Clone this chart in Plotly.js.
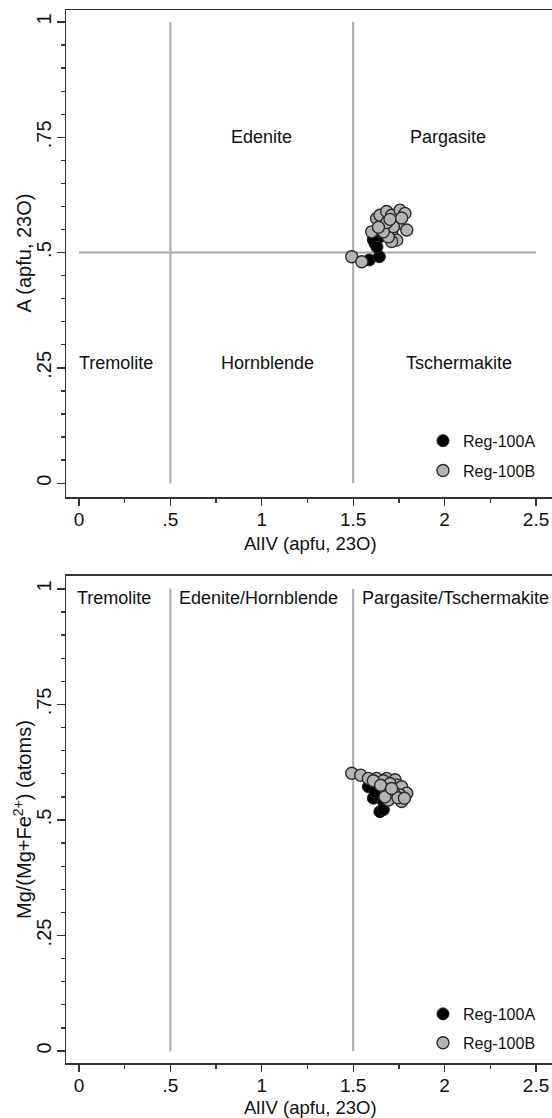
<!DOCTYPE html>
<html>
<head>
<meta charset="utf-8">
<script src="https://cdn.plot.ly/plotly-3.0.1.min.js"></script>
<style>
html,body{margin:0;padding:0;overflow:hidden;background:#fff;width:552px;height:1118px;}
#chart{width:620px;height:1118px;}
</style>
</head>
<body>
<div id="chart"></div>
<script>
// ---- data ----
const seriesNames = ["Reg-100A", "Reg-100B"];

// Reg-100A (black)
const aAlIV_top = [1.588, 1.643, 1.619, 1.646, 1.656, 1.665, 1.637, 1.665, 1.610, 1.630];
const aA_top    = [0.484, 0.491, 0.520, 0.534, 0.556, 0.567, 0.545, 0.553, 0.528, 0.512];
const aAlIV_bot = [1.592, 1.583, 1.637, 1.656, 1.610, 1.646, 1.665, 1.646, 1.665, 1.619];
const aMg_bot   = [0.583, 0.572, 0.569, 0.561, 0.547, 0.550, 0.540, 0.518, 0.522, 0.561];

// Reg-100B (grey)
const bAlIV_top = [1.492, 1.547, 1.601, 1.628, 1.646, 1.683, 1.710, 1.756, 1.783, 1.747, 1.793,
                   1.710, 1.738, 1.710, 1.692, 1.720, 1.665, 1.683, 1.638, 1.701, 1.765];
const bA_top    = [0.491, 0.480, 0.545, 0.574, 0.581, 0.589, 0.581, 0.592, 0.585, 0.563, 0.549,
                   0.542, 0.527, 0.524, 0.534, 0.556, 0.545, 0.565, 0.555, 0.572, 0.575];
const bAlIV_bot = [1.492, 1.541, 1.583, 1.628, 1.683, 1.729, 1.738, 1.765, 1.793, 1.756, 1.765,
                   1.692, 1.720, 1.665, 1.701, 1.674, 1.610, 1.650, 1.745, 1.710, 1.780];
const bMg_bot   = [0.601, 0.597, 0.590, 0.590, 0.590, 0.587, 0.576, 0.572, 0.558, 0.554, 0.540,
                   0.543, 0.561, 0.585, 0.579, 0.550, 0.585, 0.575, 0.548, 0.568, 0.547];

// field boundaries
const alivBounds = [0.5, 1.5];
const aBound = 0.5;

// tick labels
const xTickVals = [0, 0.5, 1, 1.5, 2, 2.5];
const xTickText = ["0", ".5", "1", "1.5", "2", "2.5"];
const yTickVals = [0, 0.25, 0.5, 0.75, 1];
const yTickText = ["0", ".25", ".5", ".75", "1"];

// axis titles
const xTitle = "AlIV (apfu, 23O)";
const yTitleTop = "A (apfu, 23O)";
const yTitleBot = "Mg/(Mg+Fe<sup>2+</sup>) (atoms)";

// field labels
const topLabels = [
  {text: "Edenite", x: 1.0, y: 0.75},
  {text: "Pargasite", x: 2.02, y: 0.75},
  {text: "Tremolite", x: 0.2, y: 0.26},
  {text: "Hornblende", x: 1.03, y: 0.26},
  {text: "Tschermakite", x: 2.08, y: 0.26}
];
const botLabels = [
  {text: "Tremolite", x: 0.19, y: 0.98},
  {text: "Edenite/Hornblende", x: 0.98, y: 0.98},
  {text: "Pargasite/Tschermakite", x: 2.06, y: 0.98}
];

// ---- styling ----
const FONT = "Liberation Sans, Arial, Helvetica, sans-serif";
const AX = "#333333";
const LINE = "#a8a8a8";
const TXT = "#111111";

function xAxis(anchor) {
  return {
    anchor: anchor, range: [-0.071, 2.664], domain: [0, 1],
    tickmode: "array", tickvals: xTickVals, ticktext: xTickText,
    ticks: "outside", ticklen: 7, tickwidth: 1.3, tickcolor: AX,
    showline: true, linecolor: AX, linewidth: 1.5, mirror: true,
    showgrid: false, zeroline: false, automargin: false,
    ticklabelstandoff: -2,
    tickfont: {family: FONT, size: 19, color: TXT},
    minor: {tickmode: "array", tickvals: [0.25, 0.75, 1.25, 1.75, 2.25], ticks: "outside",
            ticklen: 4, tickwidth: 1.3, tickcolor: AX, showgrid: false}
  };
}
function yAxis(anchor, domain, range) {
  const minorVals = [];
  for (let i = 1; i < 20; i++) { if (i % 5 !== 0) minorVals.push(i / 20); }
  return {
    anchor: anchor, domain: domain, range: range,
    tickmode: "array", tickvals: yTickVals, ticktext: yTickText, tickangle: -90,
    ticks: "outside", ticklen: 8, tickwidth: 1.3, tickcolor: AX,
    showline: true, linecolor: AX, linewidth: 1.5, mirror: true,
    showgrid: false, zeroline: false, automargin: false,
    ticklabelstandoff: -2,
    tickfont: {family: FONT, size: 20, color: TXT},
    minor: {tickmode: "array", tickvals: minorVals, ticks: "outside",
            ticklen: 4, tickwidth: 1.3, tickcolor: AX, showgrid: false}
  };
}

const markerA = {size: 12, color: "#000000", line: {color: "#222", width: 1}};
const markerB = {size: 12, color: "#b4b4b4", line: {color: "#2a2a2a", width: 1.4}};

const traces = [
  {x: aAlIV_top, y: aA_top, type: "scatter", mode: "markers", name: seriesNames[0],
   marker: markerA, xaxis: "x", yaxis: "y", legend: "legend", legendgroup: "a"},
  {x: bAlIV_top, y: bA_top, type: "scatter", mode: "markers", name: seriesNames[1],
   marker: markerB, xaxis: "x", yaxis: "y", legend: "legend", legendgroup: "b"},
  {x: aAlIV_bot, y: aMg_bot, type: "scatter", mode: "markers", name: seriesNames[0],
   marker: markerA, xaxis: "x2", yaxis: "y2", legend: "legend2", legendgroup: "a2"},
  {x: bAlIV_bot, y: bMg_bot, type: "scatter", mode: "markers", name: seriesNames[1],
   marker: markerB, xaxis: "x2", yaxis: "y2", legend: "legend2", legendgroup: "b2"}
];

const shapes = [];
alivBounds.forEach(v => {
  shapes.push({type: "line", xref: "x", yref: "y", x0: v, x1: v, y0: 0, y1: 1,
               line: {color: LINE, width: 2}, layer: "below"});
  shapes.push({type: "line", xref: "x2", yref: "y2", x0: v, x1: v, y0: 0, y1: 1,
               line: {color: LINE, width: 2}, layer: "below"});
});
shapes.push({type: "line", xref: "x", yref: "y", x0: 0, x1: 2.5, y0: aBound, y1: aBound,
             line: {color: LINE, width: 2}, layer: "below"});

const annotations = [];
topLabels.forEach(l => annotations.push({text: l.text, x: l.x, y: l.y, xref: "x", yref: "y",
  showarrow: false, font: {family: FONT, size: 18, color: TXT}}));
botLabels.forEach(l => annotations.push({text: l.text, x: l.x, y: l.y, xref: "x2", yref: "y2",
  showarrow: false, font: {family: FONT, size: 18, color: TXT}}));

// axis titles as text annotations for exact placement
const titleFont = {family: FONT, size: 18.5, color: TXT};
annotations.push({text: xTitle, xref: "x", x: 1.266, yref: "paper", y: 0.4929,
  xanchor: "center", yanchor: "middle", showarrow: false, font: titleFont});
annotations.push({text: xTitle, xref: "x2", x: 1.266, yref: "paper", y: -0.0418,
  xanchor: "center", yanchor: "middle", showarrow: false, font: titleFont});
annotations.push({text: yTitleTop, xref: "paper", x: -0.058, yref: "paper", y: 0.76876,
  xanchor: "right", yanchor: "middle", textangle: -90, showarrow: false,
  font: {family: FONT, size: 20, color: TXT}});
annotations.push({text: yTitleBot, xref: "paper", x: -0.058, yref: "paper", y: 0.23125,
  xanchor: "right", yanchor: "middle", textangle: -90, showarrow: false,
  font: {family: FONT, size: 20, color: TXT}});

const legendStyle = (y, gap) => ({
  x: 0.714, y: y, xanchor: "left", yanchor: "top", bgcolor: "rgba(0,0,0,0)",
  font: {family: FONT, size: 16, color: TXT}, tracegroupgap: gap, borderwidth: 0
});

const layout = {
  width: 620, height: 1118,
  margin: {l: 66, r: 54, t: 10, b: 55, pad: 0},
  paper_bgcolor: "#fff", plot_bgcolor: "#fff",
  showlegend: true,
  xaxis: xAxis("y"),
  yaxis: yAxis("x", [0.53751, 1], [-0.030, 1.026]),
  xaxis2: xAxis("y2"),
  yaxis2: yAxis("x2", [0, 0.46249], [-0.026, 1.028]),
  legend: legendStyle(0.607, 6),
  legend2: legendStyle(0.0627, 5),
  shapes: shapes,
  annotations: annotations
};

Plotly.newPlot("chart", traces, layout, {displayModeBar: false, staticPlot: true});
</script>
</body>
</html>
